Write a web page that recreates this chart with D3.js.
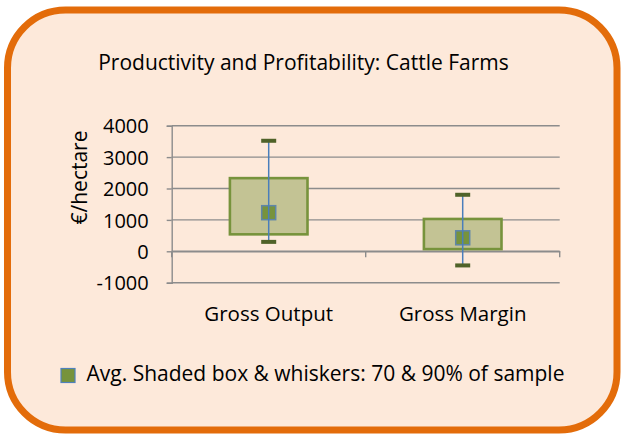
<!DOCTYPE html>
<html><head><meta charset="utf-8">
<script src="https://cdn.jsdelivr.net/npm/d3@7"></script>
<style>body{margin:0;background:#fff;}svg{display:block;}</style>
</head><body>
<svg id="c" width="621" height="435"></svg>
<script>
const categories = ["Gross Output", "Gross Margin"];
const avgValues = [1230, 430];
const boxLow = [540, 70];
const boxHigh = [2330, 1030];
const whiskerLow = [300, -450];
const whiskerHigh = [3520, 1800];
const yTicks = [-1000, 0, 1000, 2000, 3000, 4000];

const FONT = "'Open Sans', sans-serif";
const svg = d3.select("#c");

svg.append("rect").attr("x", 7.5).attr("y", 10).attr("width", 609.5).attr("height", 420)
  .attr("rx", 58).attr("ry", 58).attr("fill", "#fde9da").attr("stroke", "#e36c0a").attr("stroke-width", 7);

svg.append("text").attr("x", 303.5).attr("y", 70).attr("text-anchor", "middle")
  .attr("font-family", FONT).attr("font-size", 21).attr("fill", "#000")
  .text("Productivity and Profitability: Cattle Farms");

const x = d3.scaleBand().domain(categories).range([171.7, 559.7]);
const y = d3.scaleLinear().domain([-1000, 4000]).range([282.7, 125.7]);

const g = svg.append("g");
// gridlines
g.selectAll(".grid").data(yTicks).join("line")
  .attr("x1", 171.7).attr("x2", 559.7)
  .attr("y1", d => y(d)).attr("y2", d => y(d))
  .attr("stroke", "#8c8c8c").attr("stroke-width", 1.4);

// y axis
const yAxis = g.append("g").attr("transform", "translate(171.7,0)")
  .call(d3.axisLeft(y).tickValues(yTicks).tickSize(5).tickPadding(18).tickFormat(d => String(d)));
yAxis.select(".domain").attr("stroke", "#8c8c8c").attr("stroke-width", 1.4);
yAxis.selectAll(".tick line").attr("stroke", "#8c8c8c").attr("stroke-width", 1.4);
yAxis.selectAll("text").attr("font-family", FONT).attr("font-size", 20).attr("fill", "#000").attr("dy", "0.36em");

// x axis at zero
const xAxis = g.append("g").attr("transform", `translate(0,${y(0)})`)
  .call(d3.axisBottom(x).tickSize(0).tickFormat(""));
xAxis.select(".domain").attr("stroke", "#8c8c8c").attr("stroke-width", 1.4);
xAxis.selectAll(".tick").remove();
const bounds = [x.range()[0], x(categories[1]), x.range()[1]];
g.selectAll(".xt").data(bounds).join("line")
  .attr("x1", d => d).attr("x2", d => d).attr("y1", y(0)).attr("y2", y(0) + 6)
  .attr("stroke", "#8c8c8c").attr("stroke-width", 1.4);

// category labels
g.selectAll(".cl").data(categories).join("text")
  .attr("x", d => x(d) + x.bandwidth() / 2).attr("y", 321)
  .attr("text-anchor", "middle").attr("font-family", FONT).attr("font-size", 20.5).attr("fill", "#000")
  .text(d => d);

// y label
svg.append("text").attr("transform", "translate(87,177.5) rotate(-90)")
  .attr("text-anchor", "middle").attr("font-family", FONT).attr("font-size", 21).attr("fill", "#000")
  .text("€/hectare");

const bw = x.bandwidth() * 0.4;
const idx = d3.range(categories.length);
const cx = i => x(categories[i]) + x.bandwidth() / 2;

// boxes
g.selectAll(".box").data(idx).join("rect")
  .attr("x", i => cx(i) - bw / 2).attr("width", bw)
  .attr("y", i => y(boxHigh[i])).attr("height", i => y(boxLow[i]) - y(boxHigh[i]))
  .attr("fill", "#c3c394").attr("stroke", "#77933c").attr("stroke-width", 2.6);

// average markers
g.selectAll(".avg").data(idx).join("rect")
  .attr("x", i => cx(i) - 7).attr("y", i => y(avgValues[i]) - 7)
  .attr("width", 14).attr("height", 14)
  .attr("fill", "#77933c").attr("stroke", "#5f86a8").attr("stroke-width", 1.5);

// whisker lines
g.selectAll(".wl").data(idx).join("line")
  .attr("x1", cx).attr("x2", cx)
  .attr("y1", i => y(whiskerHigh[i])).attr("y2", i => y(whiskerLow[i]))
  .attr("stroke", "#4a7ebb").attr("stroke-width", 1.5);

// whisker caps
const caps = [];
idx.forEach(i => { caps.push([i, whiskerHigh[i]]); caps.push([i, whiskerLow[i]]); });
g.selectAll(".cap").data(caps).join("rect")
  .attr("x", d => cx(d[0]) - 7.5).attr("width", 15)
  .attr("y", d => y(d[1]) - 2).attr("height", 4)
  .attr("fill", "#4f6228");

// legend
svg.append("rect").attr("x", 61).attr("y", 368.5).attr("width", 14).attr("height", 14)
  .attr("fill", "#77933c").attr("stroke", "#4f81bd").attr("stroke-width", 1.2);
svg.append("text").attr("x", 86.5).attr("y", 381).attr("font-family", FONT).attr("font-size", 21).attr("fill", "#000")
  .text("Avg. Shaded box & whiskers: 70 & 90% of sample");
</script>
</body></html>
